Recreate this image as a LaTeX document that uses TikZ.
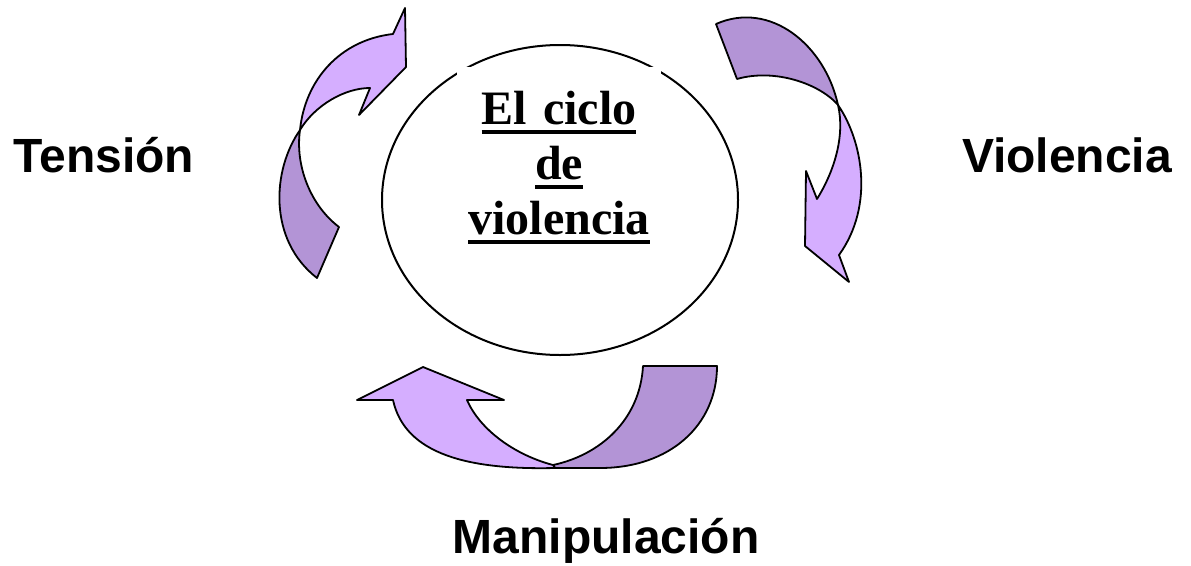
\documentclass[tikz,border=0pt]{standalone}
\usepackage{fontspec}
\setmainfont{Liberation Serif}
\setsansfont{Liberation Sans}
\usetikzlibrary{shapes.geometric}
\definecolor{lila}{HTML}{D5AEFF}
\definecolor{lilaosc}{HTML}{B394D6}
\newcommand{\subrayado}[1]{\leavevmode\setbox0=\hbox{#1}\rlap{\rule[-9pt]{\wd0}{4pt}}\box0}

\begin{document}
\begin{tikzpicture}[x=1pt, y=-1pt,
    clara/.style={draw, line width=1.8pt, line join=round, fill=lila},
    oscura/.style={draw, line width=1.8pt, line join=round, fill=lilaosc},
    etiqueta/.style={anchor=base, font=\sffamily\bfseries\fontsize{48}{58}\selectfont}]
            \useasboundingbox (0,0) rectangle (1191,565);

            % Define circle and title
            \node[ellipse, draw, line width=2pt, minimum width=356pt, minimum height=310pt] (ciclo) at (560,200) {};
            \node[anchor=north, fill=white, text width=204pt, inner xsep=0pt, inner ysep=24pt, align=center, font=\bfseries\fontsize{48}{55}\selectfont] (titulo) at (559,67) {\subrayado{El ciclo}\\ \subrayado{de}\\ \subrayado{violencia}};

            % Draw arrows
            \draw[clara] (300,130) .. controls (305,80) and (340,40) .. (393,34) -- (405,8) -- (406,67) -- (359,115) -- (370,88) .. controls (345,88) and (315,105) .. (300,130) -- cycle;
            \draw[oscura] (300,130) .. controls (272,170) and (268,240) .. (317,278) -- (339,227) .. controls (310,205) and (295,165) .. (300,130) -- cycle;
            \draw[oscura] (716,24) .. controls (770,0) and (825,45) .. (838,105) .. controls (820,84) and (775,68) .. (737,79) -- cycle;
            \draw[clara] (838,105) .. controls (862,140) and (875,205) .. (839,255) -- (849,282) -- (805,246) -- (806,171) -- (817,199) .. controls (835,170) and (845,135) .. (838,105) -- cycle;
            \draw[oscura] (553,465) -- (555,468) -- (600,468) .. controls (670,468) and (717,425) .. (717,366) -- (643,366) .. controls (640,420) and (600,455) .. (553,465) -- cycle;
            \draw[clara] (553,465) .. controls (515,455) and (480,430) .. (467,400) -- (504,400) -- (423,367) -- (357,400) -- (393,400) .. controls (405,455) and (470,470) .. (555,468) -- cycle;

            % Define labels
            \node[etiqueta] (tension) at (104,172) {Tensión};
            \node[etiqueta] (violencia) at (1067,172) {Violencia};
            \node[etiqueta] (manipulacion) at (606,553) {Manipulación};
        \end{tikzpicture}
\end{document}
